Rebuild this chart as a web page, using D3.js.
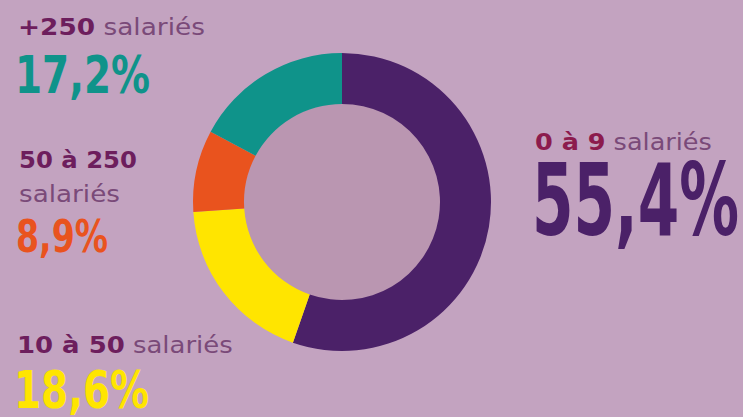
<!DOCTYPE html>
<html><head><meta charset="utf-8">
<script src="https://cdn.jsdelivr.net/npm/d3@7"></script>
<style>
html,body{margin:0;padding:0;background:#c3a3c0;}
svg{display:block;}
</style></head><body>
<svg id="c" width="743" height="417"></svg>
<script>
const categories = ["0 à 9", "10 à 50", "50 à 250", "+250"];
const values = [55.4, 18.6, 8.9, 17.2];
const colors = ["#4b2168", "#ffe500", "#e9531e", "#0f938a"];
const unit = "salariés";

const W = 743, H = 417;
const svg = d3.select("#c");
svg.append("rect").attr("width", W).attr("height", H).attr("fill", "#c3a3c0");

const cx = 342, cy = 202, rOut = 149, rIn = 98;
const pie = d3.pie().sort(null).value(d => d.v);
const arcs = pie(categories.map((c, i) => ({c, v: values[i], col: colors[i]})));
const arc = d3.arc().innerRadius(rIn).outerRadius(rOut);
const g = svg.append("g").attr("transform", `translate(${cx},${cy})`);
g.append("circle").attr("r", rIn + 0.5).attr("fill", "#ba96b1");
g.selectAll("path").data(arcs).join("path")
  .attr("d", arc).attr("fill", d => d.data.col);

const fmt = v => d3.format(".1f")(v).replace(".", ",") + "%";
const labFont = "'DejaVu Sans', 'Open Sans', sans-serif";
const bigFont = "'Liberation Sans Narrow', 'DejaVu Sans Condensed', sans-serif";
const LS = 22.5;
const unitCol = "#7a4a79";

const layout = [
  {i: 0, x: 535, y: 150, lw: 177, py: 235, ps: 99, pw: 207, catCol: "#8c1b4d"},
  {i: 1, x: 17, y: 352.5, lw: 216, py: 408, ps: 52, pw: 135},
  {i: 2, x: 19, y: 168, lw: 118, split: true, uy: 202, uw: 101, py: 252, ps: 44, pw: 92},
  {i: 3, x: 18, y: 35, lw: 187, py: 93, ps: 52, pw: 135}
];

function fit(sel, x, y, target) {
  sel.attr("x", 0).attr("y", 0);
  const w = sel.node().getComputedTextLength();
  sel.attr("transform", `translate(${x},${y}) scale(${target / w},1)`);
}

layout.forEach(L => {
  const t = svg.append("text")
    .attr("font-family", labFont).attr("font-size", LS);
  t.append("tspan").attr("font-weight", 700).attr("fill", L.catCol || "#6d1e5d")
    .text(categories[L.i]);
  if (L.split) {
    const u = svg.append("text")
      .attr("font-family", labFont).attr("font-size", LS)
      .attr("fill", unitCol).text(unit);
    fit(u, L.x, L.uy, L.uw);
  } else {
    t.append("tspan").attr("fill", unitCol).attr("font-weight", 400).text(" " + unit);
  }
  fit(t, L.x, L.y, L.lw);
  svg.append("text").attr("x", L.x - 3).attr("y", L.py)
    .attr("font-family", bigFont).attr("font-weight", 700)
    .attr("font-size", L.ps)
    .attr("textLength", L.pw).attr("lengthAdjust", "spacingAndGlyphs")
    .attr("fill", colors[L.i]).text(fmt(values[L.i]));
});
</script>
</body></html>
